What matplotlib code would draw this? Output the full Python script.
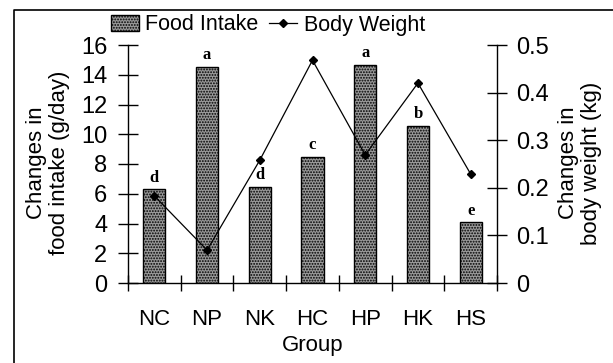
import matplotlib
matplotlib.use("Agg")
import matplotlib.pyplot as plt
from matplotlib.lines import Line2D
import numpy as np

plt.rcParams['font.family'] = ['Liberation Sans', 'DejaVu Sans']
plt.rcParams['hatch.color'] = '#2e2e2e'
plt.rcParams['hatch.linewidth'] = 0.9

groups = ["NC", "NP", "NK", "HC", "HP", "HK", "HS"]
food_intake = [6.3, 14.55, 6.47, 8.5, 14.65, 10.55, 4.08]
body_weight = [0.183, 0.069, 0.258, 0.468, 0.269, 0.42, 0.229]
letters = ["d", "a", "d", "c", "a", "b", "e"]

fig = plt.figure(figsize=(6.13, 3.63), dpi=100)
ax = fig.add_axes([128 / 613, 1 - 283 / 363, 369 / 613, 238 / 363])
ax2 = ax.twinx()

x = np.arange(len(groups))
bars = ax.bar(x, food_intake, width=0.42, facecolor='#9a9a9a',
              edgecolor='black', linewidth=1.0, hatch='......', zorder=2)
for xi, h, t in zip(x, food_intake, letters):
    ax.text(xi, h + 0.25, t, ha='center', va='bottom', fontsize=12,
            fontweight='bold', family=['Liberation Serif', 'DejaVu Serif'])

ax2.plot(x, body_weight, color='black', linewidth=0.9, marker='D',
         markersize=4.5, zorder=3)

ax.set_xlim(-0.5, len(groups) - 0.5)
ax.set_ylim(0, 16)
ax2.set_ylim(0, 0.5)
ax.set_yticks(np.arange(0, 17, 2))
ax2.set_yticks([0, 0.1, 0.2, 0.3, 0.4, 0.5])
ax2.set_yticklabels(["0", "0.1", "0.2", "0.3", "0.4", "0.5"])

ax.set_xticks(x)
ax.set_xticklabels(groups)
ax.set_xticks(np.arange(-0.5, len(groups), 1), minor=True)
ax.tick_params(axis='x', which='major', length=0, pad=19, labelsize=16)
ax.tick_params(axis='x', which='minor', direction='inout', length=12, width=1)
ax.tick_params(axis='y', direction='inout', length=14, width=1, labelsize=17, pad=8)
ax2.tick_params(axis='y', direction='inout', length=14, width=1, labelsize=17, pad=7)

for a in (ax, ax2):
    a.spines['top'].set_visible(False)
    for s in a.spines.values():
        s.set_linewidth(1.0)
ax.spines['right'].set_visible(False)
ax2.spines['left'].set_visible(False)
ax2.spines['bottom'].set_visible(False)

ax.set_xlabel("Group", fontsize=16, labelpad=3)
fig.text(48 / 613, 1 - 163 / 363, "Changes in\nfood intake (g/day)", rotation=90,
         ha='center', va='center', fontsize=16, linespacing=1.15)
fig.text(580 / 613, 1 - 163 / 363, "Changes in\nbody weight (kg)", rotation=90,
         ha='center', va='center', fontsize=16, linespacing=1.15)

handles = [bars.patches[0],
           Line2D([], [], color='black', linewidth=0.9, marker='D', markersize=4.5)]
fig.legend(handles, ["Food Intake", "Body Weight"], ncol=2, frameon=False,
           loc='center', bbox_to_anchor=(268 / 613, 1 - 25 / 363), fontsize=15.5,
           handlelength=1.3, handletextpad=0.3, columnspacing=0.5,
           borderaxespad=0)

# outer frame (top and left edges)
fig.add_artist(Line2D([14 / 613, 14 / 613, 1.0], [0.0, 1 - 10 / 363, 1 - 10 / 363],
                      transform=fig.transFigure, color='black', linewidth=1.2))

fig.savefig("out.png", dpi=100)
